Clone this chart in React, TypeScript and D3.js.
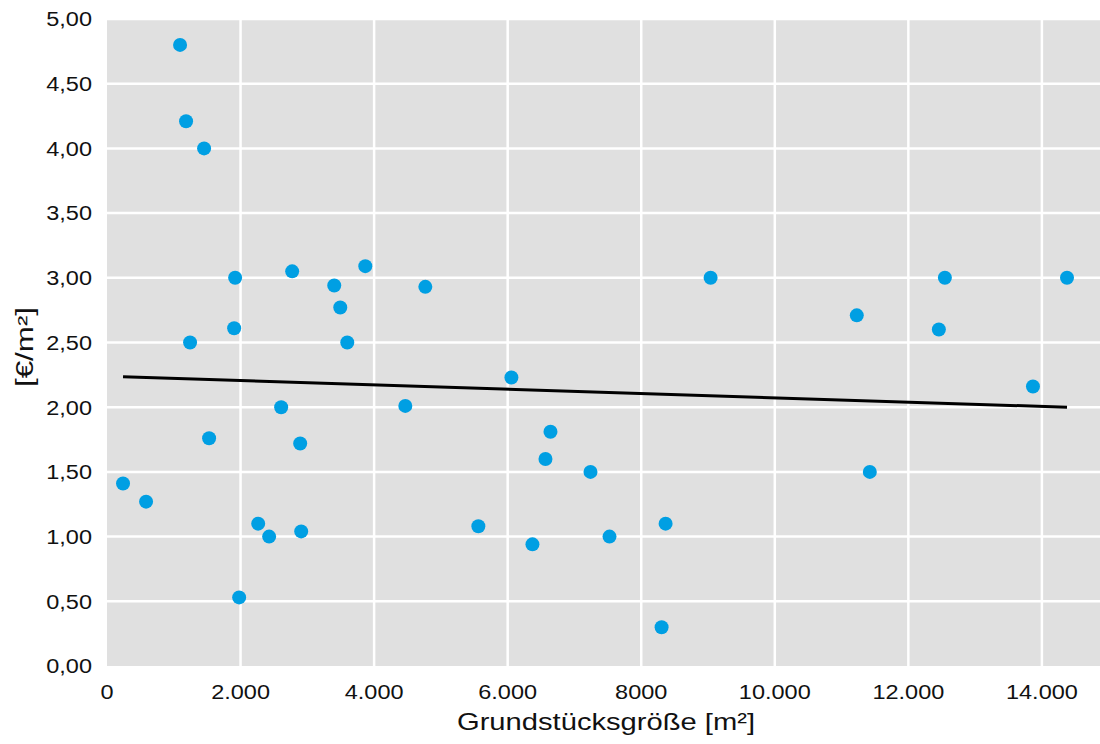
import React from "react";
import * as d3 from "d3";

// Grundstücksgröße [m²]
const flaeche = [
  240, 585, 1094, 1184, 1454, 1244, 1529, 1919, 1904, 1979, 2264, 2428, 2608,
  2773, 2893, 2908, 3403, 3493, 3598, 3868, 4467, 4767, 5561, 6056, 6371, 6566,
  6641, 7240, 7525, 8305, 8365, 9039, 11228, 11423, 12457, 12547, 13866, 14376,
];
// Preis [€/m²]
const preis = [
  1.41, 1.27, 4.8, 4.21, 4.0, 2.5, 1.76, 3.0, 2.61, 0.53, 1.1, 1.0, 2.0, 3.05,
  1.72, 1.04, 2.94, 2.77, 2.5, 3.09, 2.01, 2.93, 1.08, 2.23, 0.94, 1.6, 1.81,
  1.5, 1.0, 0.3, 1.1, 3.0, 2.71, 1.5, 2.6, 3.0, 2.16, 3.0,
];

const xTicks = [0, 2000, 4000, 6000, 8000, 10000, 12000, 14000];
const xTickLabels = ["0", "2.000", "4.000", "6.000", "8000", "10.000", "12.000", "14.000"];
const yTicks = [0, 0.5, 1, 1.5, 2, 2.5, 3, 3.5, 4, 4.5, 5];

const W = 1100;
const H = 744;
const m = { top: 19, right: 0, bottom: 78, left: 107 };

export default function App() {
  const x = d3.scaleLinear().domain([0, 14870]).range([m.left, W - m.right]);
  const y = d3.scaleLinear().domain([0, 5]).range([H - m.bottom, m.top]);

  // lineare Trendlinie (kleinste Quadrate)
  const mx = d3.mean(flaeche)!;
  const my = d3.mean(preis)!;
  let sxy = 0;
  let sxx = 0;
  flaeche.forEach((f, i) => {
    sxy += (f - mx) * (preis[i] - my);
    sxx += (f - mx) * (f - mx);
  });
  const slope = sxy / sxx;
  const icpt = my - slope * mx;
  const [x0, x1] = d3.extent(flaeche) as [number, number];
  const trend = d3.line<number>()
    .x((d) => x(d))
    .y((d) => y(icpt + slope * d))([x0, x1]);

  const font = "'Liberation Sans', Arial, sans-serif";

  return (
    <svg width={W} height={H} style={{ position: "absolute", left: 0, top: 0 }}>
      <rect x={0} y={0} width={W} height={H} fill="#fff" />
      <rect
        x={m.left}
        y={m.top}
        width={W - m.right - m.left}
        height={H - m.bottom - m.top}
        fill="#e0e0e0"
      />
      {yTicks.slice(1).map((t) => (
        <line key={"gy" + t} x1={m.left} x2={W - m.right} y1={y(t)} y2={y(t)} stroke="#fff" strokeWidth={2.5} />
      ))}
      {xTicks.slice(1).map((t) => (
        <line key={"gx" + t} x1={x(t)} x2={x(t)} y1={m.top} y2={H - m.bottom} stroke="#fff" strokeWidth={2.5} />
      ))}
      {trend && <path d={trend} stroke="#000" strokeWidth={3} fill="none" />}
      {flaeche.map((f, i) => (
        <circle key={i} cx={x(f)} cy={y(preis[i])} r={7} fill="#009fe3" />
      ))}
      {yTicks.map((t) => (
        <text
          key={"ty" + t}
          transform={`translate(92,${y(t)}) scale(1.12,1)`}
          dy="0.35em"
          textAnchor="end"
          fontFamily={font}
          fontSize={21}
          fill="#111"
        >
          {d3.format(".2f")(t).replace(".", ",")}
        </text>
      ))}
      {xTicks.map((t, i) => (
        <text
          key={"tx" + t}
          transform={`translate(${x(t)},699) scale(1.12,1)`}
          textAnchor="middle"
          fontFamily={font}
          fontSize={21}
          fill="#111"
        >
          {xTickLabels[i]}
        </text>
      ))}
      <text
        x={457}
        y={730}
        textLength={298}
        lengthAdjust="spacingAndGlyphs"
        fontFamily={font}
        fontSize={24}
        fill="#111"
      >
        Grundstücksgröße [m²]
      </text>
      <text
        transform={`translate(33,387) rotate(-90)`}
        textLength={80}
        lengthAdjust="spacingAndGlyphs"
        fontFamily={font}
        fontSize={23}
        fill="#111"
      >
        [€/m²]
      </text>
    </svg>
  );
}
